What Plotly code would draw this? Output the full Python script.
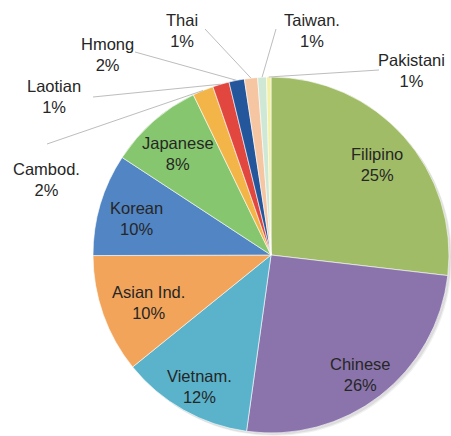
import math
import plotly.graph_objects as go

# ---- data ----
groups = ["Filipino", "Chinese", "Vietnam.", "Asian Ind.", "Korean", "Japanese",
          "Cambod.", "Laotian", "Hmong", "Thai", "Taiwan.", "Pakistani"]
shares = [26.9, 25.4, 12.0, 10.8, 9.3, 8.6, 1.9, 1.5, 1.4, 1.2, 0.8, 0.4]
pct_labels = ["25%", "26%", "12%", "10%", "10%", "8%", "2%", "1%", "2%", "1%", "1%", "1%"]

colors = ["#A1BC67", "#8A74AB", "#5AB3CB", "#F2A45A", "#5185C4", "#86C66E",
          "#F4B548", "#E2473F", "#23569A", "#F6C6A3", "#CFE8D6", "#F4F0A6"]

# ---- layout constants (pixels) ----
W, H = 451, 436
CX, CY, R = 271, 255, 178
LABEL_DY = 4          # small vertical nudge for inside labels
FONT = "Liberation Sans, Arial, Helvetica, sans-serif"
TXT = "#262626"
FS = 16.5

# radial placement of inside labels (fraction of radius)
inside_r = {"Filipino": 0.8, "Chinese": 0.82, "Vietnam.": 0.82, "Asian Ind.": 0.73,
            "Korean": 0.79, "Japanese": 0.79}

# outside label placement: block centre and leader-line start (pixels)
outside_pos = {
    "Cambod.": ((46, 179), (47, 144)),
    "Laotian": ((54, 96), (93, 97)),
    "Hmong": ((107, 54), (135, 52)),
    "Thai": ((182, 31), (205, 29)),
    "Taiwan.": ((312, 31), (276, 29)),
    "Pakistani": ((411, 71), (379, 70)),
}


def px2paper(x, y):
    return x / W, 1 - y / H


fig = go.Figure(go.Pie(
    labels=groups, values=shares, sort=False, direction="clockwise", rotation=0,
    marker=dict(colors=colors, line=dict(color="white", width=0.6)),
    textinfo="none", hoverinfo="label+percent", showlegend=False,
    domain=dict(x=[(CX - R) / W, (CX + R) / W], y=[1 - (CY + R) / H, 1 - (CY - R) / H]),
))

total = sum(shares)
cum = 0.0
annotations = []
shapes = []

# soft drop shadow behind the pie
for off, alpha in ((3, 0.06), (2, 0.08)):
    sx0, sy0 = px2paper(CX - R + off, CY - R + off)
    sx1, sy1 = px2paper(CX + R + off, CY + R + off)
    shapes.append(dict(type="circle", xref="paper", yref="paper", layer="below",
                       x0=sx0, y0=sy1, x1=sx1, y1=sy0,
                       fillcolor=f"rgba(0,0,0,{alpha})", line=dict(width=0)))

for g, v, p in zip(groups, shares, pct_labels):
    mid = (cum + v / 2) / total * 2 * math.pi
    cum += v
    text = f"{g}<br>{p}"
    if g in outside_pos:
        (bx, by), (lx, ly) = outside_pos[g]
        ex, ey = CX + R * math.sin(mid), CY - R * math.cos(mid)
        x0, y0 = px2paper(lx, ly)
        x1, y1 = px2paper(ex, ey)
        shapes.append(dict(type="line", xref="paper", yref="paper", x0=x0, y0=y0, x1=x1, y1=y1,
                           line=dict(color="#BDBDBD", width=1)))
        ax, ay = px2paper(bx, by)
    else:
        rr = inside_r[g] * R
        ax, ay = px2paper(CX + rr * math.sin(mid), CY + LABEL_DY - rr * math.cos(mid))
    annotations.append(dict(x=ax, y=ay, xref="paper", yref="paper", text=text, showarrow=False,
                            xanchor="center", yanchor="middle",
                            font=dict(family=FONT, size=FS, color=TXT)))

fig.update_layout(
    width=W, height=H, margin=dict(l=0, r=0, t=0, b=0),
    paper_bgcolor="white", plot_bgcolor="white",
    annotations=annotations, shapes=shapes,
)

fig.write_html("out.html", config={"displayModeBar": False},
               post_script="document.body.style.margin='0';")
